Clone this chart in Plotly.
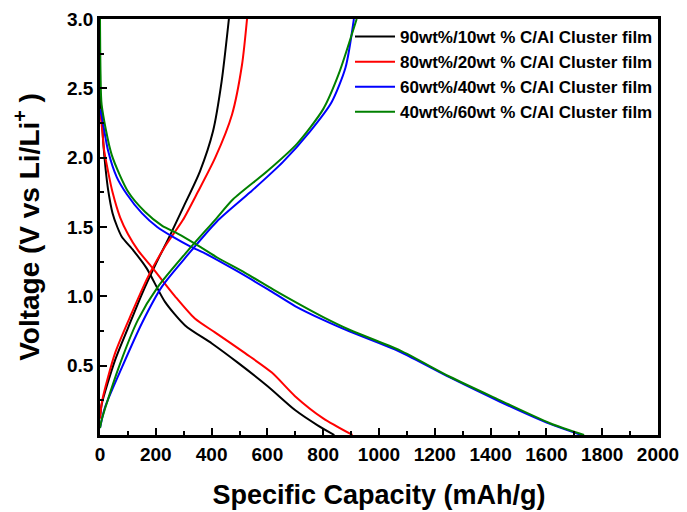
import plotly.graph_objects as go

# ---- data (Specific capacity mAh/g, Voltage V) ----
names = ["90wt%/10wt % C/Al Cluster film",
         "80wt%/20wt % C/Al Cluster film",
         "60wt%/40wt % C/Al Cluster film",
         "40wt%/60wt % C/Al Cluster film"]
colors = ["#000000", "#FF0000", "#0000FF", "#008000"]

# discharge curves
dis_cap_90 = [0, 6, 12, 20, 29, 45, 62, 78, 120, 168, 233, 305, 401, 495, 602, 699, 780, 840]
dis_v_90 = [2.45, 2.3, 2.1, 1.92, 1.77, 1.6, 1.5, 1.43, 1.33, 1.2, 0.96, 0.79, 0.66, 0.52, 0.35, 0.18, 0.07, 0.0]
dis_cap_80 = [0, 8, 15, 29, 45, 72, 100, 137, 186, 269, 340, 412, 520, 616, 699, 800, 905]
dis_v_80 = [2.35, 2.2, 2.05, 1.9, 1.75, 1.57, 1.45, 1.33, 1.21, 1.0, 0.84, 0.74, 0.59, 0.45, 0.28, 0.12, 0.0]
dis_cap_60 = [0, 6, 29, 60, 95, 150, 205, 260, 323, 376, 484, 602, 699, 800, 896, 1075, 1254, 1434, 1613, 1725]
dis_v_60 = [2.35, 2.3, 2.05, 1.86, 1.74, 1.6, 1.5, 1.43, 1.36, 1.31, 1.19, 1.05, 0.93, 0.83, 0.745, 0.6, 0.415, 0.24, 0.08, 0.0]
dis_cap_40 = [0, 2, 6, 42, 102, 161, 222, 280, 340, 420, 520, 620, 717, 800, 896, 1075, 1254, 1434, 1613, 1735]
dis_v_40 = [3.0, 2.6, 2.38, 2.02, 1.75, 1.61, 1.51, 1.45, 1.38, 1.28, 1.17, 1.05, 0.94, 0.85, 0.757, 0.61, 0.42, 0.25, 0.085, 0.0]

# charge curves
chg_cap_90 = [0, 6, 54, 102, 151, 204, 251, 298, 358, 405, 436, 462]
chg_v_90 = [0.12, 0.22, 0.54, 0.78, 1.02, 1.25, 1.44, 1.64, 1.9, 2.19, 2.55, 3.0]
chg_cap_80 = [0, 8, 54, 114, 172, 233, 297, 350, 413, 473, 509, 527]
chg_v_80 = [0.12, 0.25, 0.59, 0.88, 1.14, 1.36, 1.55, 1.75, 2.0, 2.31, 2.67, 3.0]
chg_cap_60 = [0, 18, 79, 151, 222, 315, 419, 538, 656, 753, 830, 880, 910]
chg_v_60 = [0.05, 0.2, 0.49, 0.81, 1.07, 1.3, 1.54, 1.75, 1.97, 2.19, 2.4, 2.65, 3.0]
chg_cap_40 = [0, 6, 64, 136, 208, 315, 412, 477, 598, 706, 800, 855, 920]
chg_v_40 = [0.05, 0.11, 0.47, 0.83, 1.07, 1.33, 1.55, 1.7, 1.9, 2.1, 2.35, 2.6, 3.0]

y_ticks = [0.5, 1.0, 1.5, 2.0, 2.5, 3.0]
x_ticks = [0, 200, 400, 600, 800, 1000, 1200, 1400, 1600, 1800, 2000]

discharge = [(dis_cap_90, dis_v_90), (dis_cap_80, dis_v_80), (dis_cap_60, dis_v_60), (dis_cap_40, dis_v_40)]
charge = [(chg_cap_90, chg_v_90), (chg_cap_80, chg_v_80), (chg_cap_60, chg_v_60), (chg_cap_40, chg_v_40)]

FONT = "Liberation Sans, Arial, sans-serif"

fig = go.Figure()
for name, col, (dx, dy), (cx, cy) in zip(names, colors, discharge, charge):
    fig.add_trace(go.Scatter(x=list(dx) + [None] + list(cx), y=list(dy) + [None] + list(cy),
                             mode="lines", name=name,
                             line=dict(color=col, width=2, shape="spline", smoothing=0.7),
                             connectgaps=False))

axis_common = dict(showline=True, linecolor="black", linewidth=2.5, mirror=True,
                   ticks="inside", ticklen=7, tickwidth=2, tickcolor="black",
                   showgrid=False, zeroline=False, automargin=False,
                   tickfont=dict(family=FONT, size=19, color="black", weight="bold"))

fig.update_layout(
    width=679, height=504,
    margin=dict(l=92, r=29, t=11, b=77),
    paper_bgcolor="white", plot_bgcolor="white",
    font=dict(family=FONT, color="black"),
    xaxis=dict(range=[0, 2000], tickmode="array", tickvals=x_ticks,
               minor=dict(ticks="inside", ticklen=4, tickwidth=2, tickcolor="black", dtick=100, tick0=0, tickmode="linear"),
               title=dict(text="<b>Specific Capacity (mAh/g)</b>", font=dict(family=FONT, size=27), standoff=22),
               **axis_common),
    yaxis=dict(range=[0, 3.0], tickmode="array", tickvals=y_ticks, tickformat=".1f",
               minor=dict(ticks="inside", ticklen=4, tickwidth=2, tickcolor="black", dtick=0.25, tick0=0, tickmode="linear"),
               title=dict(text="<b>Voltage (V vs Li/Li<sup>+</sup> )</b>", font=dict(family=FONT, size=28), standoff=20),
               **axis_common),
    legend=dict(x=1, y=1, xanchor="right", yanchor="top", bgcolor="rgba(0,0,0,0)",
                font=dict(family=FONT, size=17, color="black", weight="bold"),
                itemwidth=40, tracegroupgap=0),
    showlegend=True,
)

fig.write_html("out.html")
